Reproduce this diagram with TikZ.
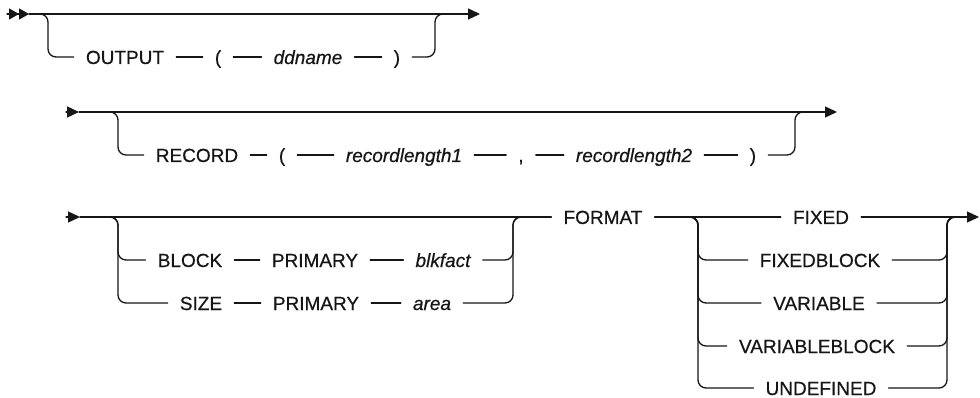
\documentclass[tikz,border=0pt]{standalone}
\usepackage{fontspec}
\setmainfont{Liberation Sans}
\usetikzlibrary{arrows.meta,calc,positioning}
\definecolor{railInk}{HTML}{161616}
\definecolor{railPaper}{HTML}{FFFFFF}

\begin{document}
\begin{tikzpicture}[x=1pt,y=-1pt,line cap=round,line join=round]
\path[fill=railPaper] (0,0) rectangle (980,398);
\tikzset{track/.style={draw=railInk,line width=1.3pt},turn/.style={track,rounded corners=8pt},kw/.style={text=railInk,font=\fontsize{19pt}{22pt}\selectfont\addfontfeatures{FakeBold=0.5},inner xsep=12pt,inner ysep=0pt,text height=14pt,text depth=0pt},var/.style={kw,font=\fontsize{19pt}{22pt}\selectfont\itshape\addfontfeatures{FakeBold=0.5}},tip/.style={-{Triangle[length=12pt,width=11pt]}},twotip/.style={-{Triangle[length=10pt,width=11pt]Triangle[length=10pt,width=11pt]}}}
\coordinate (r1go) at (7,14); \coordinate (r1on) at (29,14); \coordinate (r1a) at (40,14); \coordinate (r1b) at (48,14); \coordinate (r1c) at (435,14); \coordinate (r1d) at (443,14); \coordinate (r1end) at (480,14);
\node[kw] (r1out) at (125,57) {OUTPUT}; \node[kw] (r1lp) at (218,57) {(}; \node[var] (r1dd) at (308,57) {ddname}; \node[kw] (r1rp) at (397,57) {)};
\draw[track,twotip] (r1go) -- (r1on); \draw[track,tip] (r1on) -- (r1end);
\draw[turn] (r1a) -| (r1out -| r1b) -- (r1out); \draw[track] (r1out) -- (r1lp); \draw[track] (r1lp) -- (r1dd); \draw[track] (r1dd) -- (r1rp); \draw[turn] (r1rp) -| (r1c) -- (r1d);
\coordinate (r2go) at (66,112); \coordinate (r2on) at (79,112); \coordinate (r2a) at (110,112); \coordinate (r2b) at (118,112); \coordinate (r2c) at (795,112); \coordinate (r2d) at (803,112); \coordinate (r2end) at (837,112);
\node[kw] (r2rec) at (197,155) {RECORD}; \node[kw] (r2lp) at (282,155) {(}; \node[var] (r2len1) at (404,155) {recordlength1}; \node[kw] (r2cm) at (521,155) {,}; \node[var] (r2len2) at (634,155) {recordlength2}; \node[kw] (r2rp) at (753,155) {)};
\draw[track,tip] (r2go) -- (r2on); \draw[track,tip] (r2on) -- (r2end);
\draw[turn] (r2a) -| (r2rec -| r2b) -- (r2rec); \draw[track] (r2rec) -- (r2lp); \draw[track] (r2lp) -- (r2len1); \draw[track] (r2len1) -- (r2cm); \draw[track] (r2cm) -- (r2len2); \draw[track] (r2len2) -- (r2rp); \draw[turn] (r2rp) -| (r2c) -- (r2d);
\coordinate (r3go) at (66,217); \coordinate (r3on) at (80,217); \coordinate (r3a) at (110,217); \coordinate (r3b) at (118,217); \coordinate (r3c) at (513,217); \coordinate (r3d) at (521,217);
\node[kw] (r3blk) at (190,260) {BLOCK}; \node[kw] (r3pri1) at (315,260) {PRIMARY}; \node[var] (r3fact) at (443,260) {blkfact};
\node[kw] (r3size) at (201,303) {SIZE}; \node[kw] (r3pri2) at (316,303) {PRIMARY}; \node[var] (r3area) at (432,303) {area};
\node[kw] (r3fmt) at (603,217) {FORMAT};
\draw[track,tip] (r3go) -- (r3on); \draw[track] (r3on) -- (r3fmt);
\draw[turn] (r3a) -| (r3blk -| r3b) -- (r3blk); \draw[track] (r3blk) -- (r3pri1); \draw[track] (r3pri1) -- (r3fact); \draw[turn] (r3fact) -| (r3c) -- (r3d);
\draw[turn] (r3a) -| (r3size -| r3b) -- (r3size); \draw[track] (r3size) -- (r3pri2); \draw[track] (r3pri2) -- (r3area); \draw[turn] (r3area) -| (r3c) -- (r3d);
\coordinate (r3e) at (690,217); \coordinate (r3f) at (698,217); \coordinate (r3g) at (947,217); \coordinate (r3h) at (955,217); \coordinate (r3end) at (979,217);
\node[kw] (r3fix) at (821,217) {FIXED}; \node[kw] (r3fixb) at (820,260) {FIXEDBLOCK}; \node[kw] (r3var) at (819,303) {VARIABLE}; \node[kw] (r3varb) at (817,346) {VARIABLEBLOCK}; \node[kw] (r3und) at (821,388) {UNDEFINED};
\draw[track] (r3fmt) -- (r3fix); \draw[track,tip] (r3fix) -- (r3end);
\foreach \n in {r3fixb,r3var,r3varb,r3und} {\draw[turn] (r3e) -| (\n -| r3f) -- (\n); \draw[turn] (\n) -| (r3g) -- (r3h);}
\end{tikzpicture}
\end{document}
